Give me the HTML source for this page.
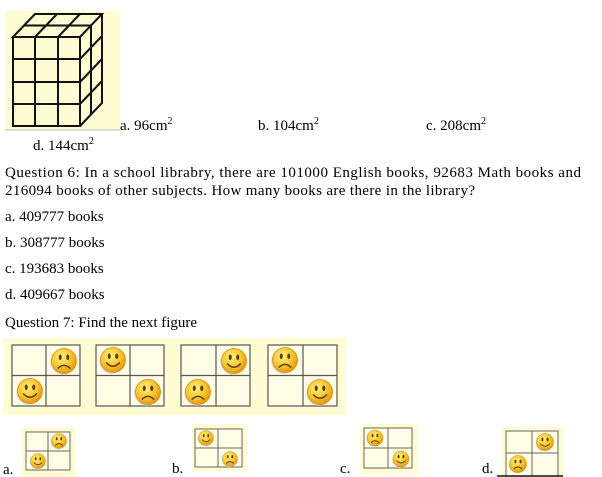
<!DOCTYPE html>
<html><head><meta charset="utf-8"><style>
html,body{margin:0;padding:0;background:#fff;width:602px;height:477px;overflow:hidden}
svg{display:block;font-family:"Liberation Serif",serif;}
</style></head><body>
<svg width="602" height="477" viewBox="0 0 602 477" xmlns="http://www.w3.org/2000/svg">
<defs>
<radialGradient id="sg" cx="40%" cy="35%" r="65%">
<stop offset="0" stop-color="#fff27a"/><stop offset="0.6" stop-color="#f7c531"/><stop offset="1" stop-color="#e59a12"/>
</radialGradient>
<g id="happy"><circle r="10" fill="#ddd" cx="-1" cy="1"/><circle r="10" fill="url(#sg)" stroke="#d08a10" stroke-width="0.6"/>
<ellipse cx="-3" cy="-3" rx="1.2" ry="2.2" fill="#5a3a10"/><ellipse cx="3" cy="-3" rx="1.2" ry="2.2" fill="#5a3a10"/>
<path d="M-5.5 2 Q0 8 5.5 2" fill="none" stroke="#5a3a10" stroke-width="1.2"/></g>
<g id="sad"><circle r="10" fill="#ddd" cx="-1" cy="1"/><circle r="10" fill="url(#sg)" stroke="#d08a10" stroke-width="0.6"/>
<ellipse cx="-3" cy="-3" rx="1.2" ry="2.2" fill="#5a3a10"/><ellipse cx="3" cy="-3" rx="1.2" ry="2.2" fill="#5a3a10"/>
<path d="M-5 6 Q0 1 5 6" fill="none" stroke="#5a3a10" stroke-width="1.2"/></g>
</defs>

<!-- cube -->
<rect x="5" y="11" width="115" height="119" fill="#fffbd2"/>
<line x1="5" y1="130" x2="120" y2="130" stroke="#bbb" stroke-width="1"/>
<g fill="none" stroke="#111" stroke-width="2">
<rect x="13" y="37" width="67" height="89"/>
<line x1="35" y1="37" x2="35" y2="126"/><line x1="58" y1="37" x2="58" y2="126"/>
<line x1="13" y1="59" x2="80" y2="59"/><line x1="13" y1="82" x2="80" y2="82"/><line x1="13" y1="104" x2="80" y2="104"/>
<polygon points="13,37 35,14 102,14 80,37"/>
<line x1="35" y1="37" x2="57" y2="14"/><line x1="58" y1="37" x2="80" y2="14"/>
<line x1="24" y1="25.5" x2="91" y2="25.5"/>
<polyline points="102,14 102,103 80,126"/>
<line x1="91" y1="25.5" x2="91" y2="114.5"/>
<line x1="80" y1="59" x2="102" y2="36"/><line x1="80" y1="82" x2="102" y2="59"/><line x1="80" y1="104" x2="102" y2="81"/>
</g>

<g font-size="15" fill="#000">
<text x="120" y="130">a. 96cm<tspan font-size="10" dy="-6">2</tspan></text>
<text x="258" y="130">b. 104cm<tspan font-size="10" dy="-6">2</tspan></text>
<text x="426" y="130">c. 208cm<tspan font-size="10" dy="-6">2</tspan></text>
<text x="33" y="150">d. 144cm<tspan font-size="10" dy="-6">2</tspan></text>
<text x="5" y="177" textLength="576" lengthAdjust="spacing">Question 6: In a school librabry, there are 101000 English books, 92683 Math books and</text>
<text x="5" y="195" textLength="470" lengthAdjust="spacing">216094 books of other subjects. How many books are there in the library?</text>
<text x="5" y="221">a. 409777 books</text>
<text x="5" y="247">b. 308777 books</text>
<text x="5" y="273">c. 193683 books</text>
<text x="5" y="299">d. 409667 books</text>
<text x="5" y="327">Question 7: Find the next figure</text>
</g>

<!-- panel -->
<rect x="3" y="338" width="342" height="77" fill="#fffbd2"/>
<g stroke="#555" stroke-width="1.2" fill="#fffde6">
<rect x="12" y="345" width="68" height="61"/><line x1="46" y1="345" x2="46" y2="406"/><line x1="12" y1="375.5" x2="80" y2="375.5"/>
<rect x="96" y="345" width="68" height="61"/><line x1="130" y1="345" x2="130" y2="406"/><line x1="96" y1="375.5" x2="164" y2="375.5"/>
<rect x="181" y="345" width="69" height="61"/><line x1="216" y1="345" x2="216" y2="406"/><line x1="181" y1="375.5" x2="250" y2="375.5"/>
<rect x="268" y="345" width="69" height="61"/><line x1="303" y1="345" x2="303" y2="406"/><line x1="268" y1="375.5" x2="337" y2="375.5"/>
</g>
<use href="#sad" transform="translate(64,361) scale(1.25)"/>
<use href="#happy" transform="translate(30,391) scale(1.25)"/>
<use href="#happy" transform="translate(113,360) scale(1.25)"/>
<use href="#sad" transform="translate(148,392) scale(1.25)"/>
<use href="#happy" transform="translate(234,361) scale(1.25)"/>
<use href="#sad" transform="translate(198,392) scale(1.25)"/>
<use href="#sad" transform="translate(285,360) scale(1.25)"/>
<use href="#happy" transform="translate(320,392) scale(1.25)"/>

<!-- options -->
<g font-size="15" fill="#000">
<text x="3" y="474">a.</text><text x="172" y="473">b.</text><text x="340" y="473">c.</text><text x="482" y="473">d.</text>
</g>
<rect x="22" y="428" width="53" height="49" fill="#fffbd2"/>
<rect x="192" y="424" width="55" height="47" fill="#fffbd2"/>
<rect x="360" y="424" width="58" height="50" fill="#fffbd2"/>
<rect x="502" y="427" width="61" height="50" fill="#fffbd2"/>
<g stroke="#666" stroke-width="1" fill="#fffde6">
<rect x="26" y="432" width="44" height="38"/><line x1="48" y1="432" x2="48" y2="470"/><line x1="26" y1="451" x2="70" y2="451"/>
<rect x="195" y="429" width="47" height="38"/><line x1="218" y1="429" x2="218" y2="467"/><line x1="195" y1="448" x2="242" y2="448"/>
<rect x="364" y="428" width="48" height="40"/><line x1="388" y1="428" x2="388" y2="468"/><line x1="364" y1="448" x2="412" y2="448"/>
<rect x="506" y="431" width="52" height="45"/><line x1="532" y1="431" x2="532" y2="476"/><line x1="506" y1="453" x2="558" y2="453"/>
</g>
<line x1="497" y1="476" x2="563" y2="476" stroke="#111" stroke-width="1.5"/>
<use href="#sad" transform="translate(59,441) scale(0.75)"/>
<use href="#happy" transform="translate(38,461) scale(0.75)"/>
<use href="#happy" transform="translate(206,438) scale(0.75)"/>
<use href="#sad" transform="translate(230,459) scale(0.75)"/>
<use href="#sad" transform="translate(375,438) scale(0.8)"/>
<use href="#happy" transform="translate(401,459) scale(0.8)"/>
<use href="#happy" transform="translate(545,442) scale(0.85)"/>
<use href="#sad" transform="translate(518,464) scale(0.85)"/>
</svg>
</body></html>
